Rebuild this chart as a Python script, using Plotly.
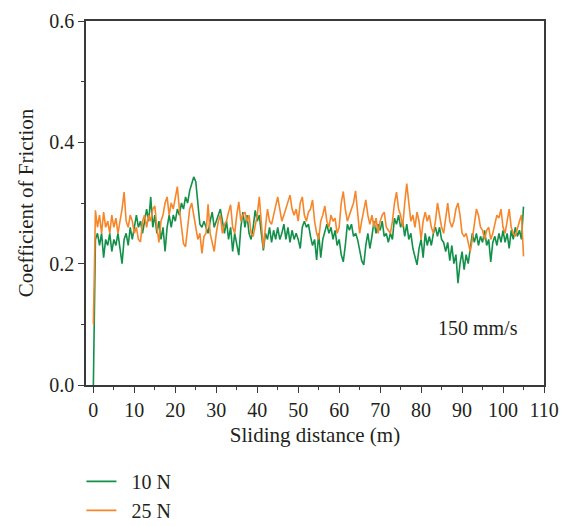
import plotly.graph_objects as go

# Sliding distance samples (m), every 0.5 m from 0 to 105
distance = [i * 0.5 for i in range(211)]

# Coefficient of friction, 10 N
cof_10N = [
    0.00, 0.24, 0.25, 0.23, 0.25, 0.21, 0.24, 0.23, 0.25, 0.22, 0.24, 0.23, 0.25, 0.22, 0.20, 0.24, 0.25, 0.23, 0.26, 0.24,
    0.26, 0.28, 0.26, 0.27, 0.25, 0.27, 0.29, 0.27, 0.31, 0.26, 0.28, 0.25, 0.27, 0.24, 0.26, 0.22, 0.26, 0.28, 0.26, 0.28,
    0.27, 0.29, 0.28, 0.30, 0.29, 0.31, 0.30, 0.32, 0.33, 0.343, 0.335, 0.30, 0.265, 0.26, 0.27, 0.26, 0.25, 0.27, 0.285, 0.26,
    0.27, 0.28, 0.29, 0.27, 0.25, 0.27, 0.24, 0.26, 0.22, 0.25, 0.23, 0.214, 0.26, 0.285, 0.26, 0.28, 0.25, 0.24, 0.26, 0.288,
    0.27, 0.28, 0.25, 0.222, 0.25, 0.24, 0.26, 0.235, 0.255, 0.24, 0.26, 0.24, 0.25, 0.265, 0.24, 0.26, 0.235, 0.255, 0.24, 0.25,
    0.24, 0.225, 0.26, 0.27, 0.26, 0.265, 0.245, 0.23, 0.24, 0.206, 0.25, 0.21, 0.24, 0.255, 0.265, 0.25, 0.26, 0.24, 0.255, 0.23,
    0.24, 0.215, 0.203, 0.23, 0.265, 0.255, 0.265, 0.245, 0.25, 0.24, 0.22, 0.205, 0.198, 0.23, 0.25, 0.225, 0.245, 0.27, 0.25, 0.265,
    0.255, 0.27, 0.245, 0.25, 0.235, 0.25, 0.24, 0.275, 0.265, 0.28, 0.26, 0.27, 0.245, 0.265, 0.24, 0.25, 0.225, 0.21, 0.198, 0.225,
    0.24, 0.21, 0.25, 0.23, 0.245, 0.23, 0.25, 0.26, 0.245, 0.26, 0.24, 0.235, 0.22, 0.235, 0.205, 0.23, 0.20, 0.215, 0.168, 0.20,
    0.22, 0.19, 0.215, 0.20, 0.23, 0.25, 0.235, 0.25, 0.23, 0.245, 0.235, 0.255, 0.23, 0.24, 0.203, 0.235, 0.245, 0.23, 0.25, 0.235,
    0.255, 0.235, 0.25, 0.225, 0.255, 0.24, 0.26, 0.245, 0.255, 0.24, 0.294,
]

# Coefficient of friction, 25 N
cof_25N = [
    0.10, 0.288, 0.26, 0.28, 0.25, 0.285, 0.26, 0.27, 0.25, 0.28, 0.26, 0.275, 0.25, 0.27, 0.29, 0.318, 0.27, 0.26, 0.28, 0.27,
    0.25, 0.26, 0.24, 0.236, 0.27, 0.28, 0.26, 0.28, 0.27, 0.29, 0.295, 0.26, 0.235, 0.27, 0.28, 0.30, 0.31, 0.28, 0.30, 0.29,
    0.31, 0.327, 0.29, 0.26, 0.233, 0.228, 0.26, 0.29, 0.30, 0.28, 0.255, 0.24, 0.25, 0.217, 0.245, 0.25, 0.298, 0.25, 0.235, 0.22,
    0.25, 0.27, 0.28, 0.25, 0.265, 0.27, 0.285, 0.297, 0.26, 0.25, 0.28, 0.302, 0.27, 0.28, 0.285, 0.27, 0.28, 0.25, 0.245, 0.265,
    0.28, 0.31, 0.27, 0.225, 0.26, 0.29, 0.27, 0.265, 0.28, 0.295, 0.31, 0.29, 0.27, 0.28, 0.29, 0.30, 0.313, 0.29, 0.28, 0.29,
    0.27, 0.30, 0.31, 0.28, 0.27, 0.285, 0.29, 0.305, 0.27, 0.25, 0.24, 0.27, 0.28, 0.295, 0.27, 0.26, 0.28, 0.27, 0.275, 0.25,
    0.26, 0.30, 0.319, 0.29, 0.27, 0.28, 0.29, 0.30, 0.32, 0.28, 0.25, 0.27, 0.29, 0.305, 0.28, 0.265, 0.28, 0.26, 0.275, 0.25,
    0.27, 0.28, 0.285, 0.26, 0.255, 0.25, 0.27, 0.30, 0.318, 0.29, 0.28, 0.26, 0.30, 0.332, 0.30, 0.27, 0.28, 0.26, 0.285, 0.27,
    0.24, 0.27, 0.285, 0.27, 0.28, 0.26, 0.25, 0.27, 0.30, 0.28, 0.26, 0.25, 0.28, 0.30, 0.27, 0.26, 0.27, 0.29, 0.30, 0.28,
    0.25, 0.245, 0.25, 0.235, 0.22, 0.24, 0.27, 0.29, 0.28, 0.26, 0.255, 0.24, 0.255, 0.26, 0.24, 0.25, 0.265, 0.28, 0.275, 0.29,
    0.26, 0.25, 0.27, 0.29, 0.26, 0.25, 0.245, 0.26, 0.27, 0.28, 0.212,
]

series_names = ["10 N", "25 N"]
x_ticks = [0, 10, 20, 30, 40, 50, 60, 70, 80, 90, 100, 110]
y_ticks = [0.0, 0.2, 0.4, 0.6]
speed_label = "150 mm/s"

assert len(cof_10N) == len(distance) and len(cof_25N) == len(distance)

FONT = "Liberation Serif"
TXT = "#231f20"
AX = "#3a3a3a"
PAD = "\u00a0\u00a0"

fig = go.Figure()
fig.add_trace(go.Scatter(x=distance, y=cof_10N, mode="lines", name=PAD + series_names[0],
                         legendgroup="a", line=dict(color="#12904a", width=1.6)))
fig.add_trace(go.Scatter(x=distance, y=cof_25N, mode="lines", name=PAD + series_names[1],
                         legendgroup="b", line=dict(color="#f7862a", width=1.6)))

fig.add_annotation(x=93.9, y=0.094, xref="x", yref="y", text=speed_label, showarrow=False,
                   font=dict(family=FONT, size=20, color=TXT))

axis_common = dict(showline=True, linecolor=AX, linewidth=1.5, mirror=True, showgrid=False,
                   zeroline=False, ticks="outside", ticklen=6, tickwidth=1.2, tickcolor=AX,
                   automargin=False, tickfont=dict(family=FONT, size=20, color=TXT))

fig.update_layout(
    width=564, height=526,
    margin=dict(l=86, r=20, t=21, b=141, autoexpand=False),
    plot_bgcolor="white", paper_bgcolor="white",
    font=dict(family=FONT, size=20, color=TXT),
    xaxis=dict(range=[-1.8, 110], tickvals=x_ticks,
               minor=dict(dtick=5, tick0=0, ticks="outside", ticklen=3, tickcolor=AX, tickwidth=1.2),
               title=dict(text="Sliding distance (m)", font=dict(family=FONT, size=21, color=TXT), standoff=8),
               **axis_common),
    yaxis=dict(range=[0, 0.6], tickvals=y_ticks, tickformat=".1f",
               minor=dict(dtick=0.1, tick0=0, ticks="outside", ticklen=3, tickcolor=AX, tickwidth=1.2),
               title=dict(text="Coefficient of Friction", font=dict(family=FONT, size=21, color=TXT), standoff=10),
               **axis_common),
    showlegend=True,
    legend=dict(x=-0.01, y=0.122, xanchor="left", yanchor="top", yref="container", orientation="v",
                tracegroupgap=0, font=dict(family=FONT, size=20, color=TXT),
                bgcolor="rgba(0,0,0,0)"),
)

fig.write_html("out.html")
